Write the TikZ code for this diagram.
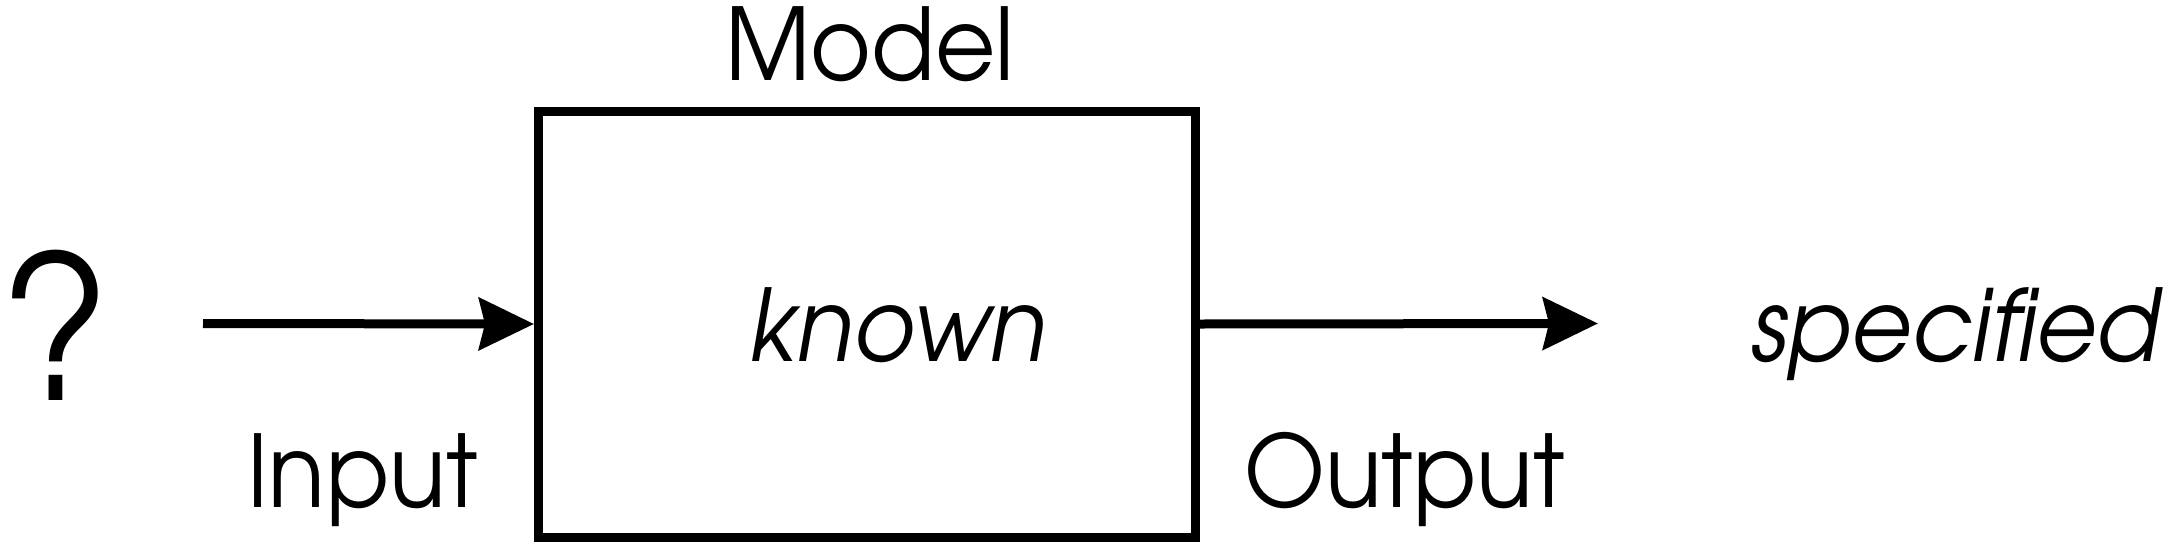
\documentclass[tikz,border=0pt]{standalone}
\usepackage{fontspec}
\setmainfont{texgyreadventor}[Extension=.otf, UprightFont=*-regular, ItalicFont=*-italic, BoldFont=*-bold, FakeStretch=0.93]
\usetikzlibrary{arrows.meta}
\begin{document}
\begin{tikzpicture}[x=1pt,y=-1pt,
  lbl/.style={inner sep=0pt, outer sep=0pt, font=\fontsize{100}{110}\selectfont},
  conn/.style={line width=9pt, -{Stealth[length=55pt,width=52pt,inset=6pt]}},
  boxst/.style={draw, line width=9pt, minimum width=656.5pt, minimum height=426pt, inner sep=0pt}]
\useasboundingbox (0,0) rectangle (2176,544);
\node[boxst] (model) at (866.75,324) {};
\node[lbl, anchor=base] (modellbl) at (870,80.5) {Model};
\node[lbl, anchor=base] (known) at (898,361.5) {\itshape known};
\node[lbl, anchor=base west, font=\fontsize{200}{210}\selectfont] (q) at (0,400) {?};
\node[lbl, anchor=base] (input) at (362.5,507) {Input};
\node[lbl, anchor=base] (output) at (1404.5,507) {Output};
\node[lbl, anchor=base] (spec) at (1955.5,361.5) {\itshape specified};
\coordinate (inL) at (203,323.5);
\coordinate (outR) at (1598,323.5);
\draw[conn] (inL) -- (model.west);
\draw[conn] (model.east) -- (outR);
\end{tikzpicture}
\end{document}
